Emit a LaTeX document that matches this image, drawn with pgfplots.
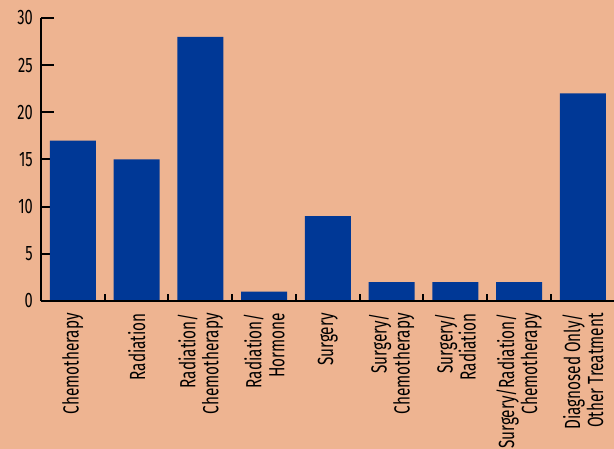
\documentclass[border=0pt]{standalone}
\usepackage{fontspec}
\setmainfont{Fira Sans}[FakeStretch=0.7]
\usepackage{pgfplots}
\pgfplotsset{compat=1.18}
\definecolor{bg}{RGB}{238,180,145}
\definecolor{barblue}{RGB}{0,56,150}
\begin{document}
\begin{tikzpicture}
\fill[bg] (0,0) rectangle (614bp,449bp);
\begin{axis}[
  at={(41bp,148bp)}, anchor=south west,
  scale only axis, width=573.75bp, height=283bp,
  xmin=-0.5, xmax=8.5, ymin=0, ymax=30,
  axis x line=bottom, axis y line=left,
  axis line style={-, line width=2bp, black},
  ytick={0,5,...,30},
  ytick style={line width=2bp, black},
  major tick length=13bp,
  tick align=inside,
  xtick={-0.5,0.5,...,8.5},
  x tick label as interval,
  xtick style={draw=none},
  xticklabels={Chemotherapy, Radiation, Radiation/\\Chemotherapy, Radiation/\\Hormone, Surgery, Surgery/\\Chemotherapy, Surgery/\\Radiation, Surgery/Radiation/\\Chemotherapy, Diagnosed Only/\\Other Treatment},
  xticklabel style={yshift=-12bp, rotate=90, anchor=east, align=right, font=\fontsize{22}{23}\selectfont, inner sep=0pt},
  yticklabel style={font=\fontsize{21}{22}\selectfont, inner sep=0pt, xshift=-8bp},
  /pgf/number format/assume math mode=true,
]
\addplot[ybar, bar width=46bp, fill=barblue, draw=none] coordinates {
(0,17) (1,15) (2,28) (3,1) (4,9) (5,2) (6,2) (7,2) (8,22)};
\end{axis}
\begin{axis}[
  at={(41bp,148bp)}, anchor=south west,
  scale only axis, width=573.75bp, height=283bp,
  xmin=-0.5, xmax=8.5, ymin=0, ymax=30,
  axis x line=bottom, hide y axis,
  axis line style={-, line width=2bp, black},
  xtick={0.5,1.5,...,7.5}, xticklabels={},
  xtick style={line width=2bp, black},
  major tick length=7bp, tick align=inside,
]
\end{axis}
\pgfresetboundingbox
\path[use as bounding box] (0,0) rectangle (614bp,449bp);
\end{tikzpicture}
\end{document}
